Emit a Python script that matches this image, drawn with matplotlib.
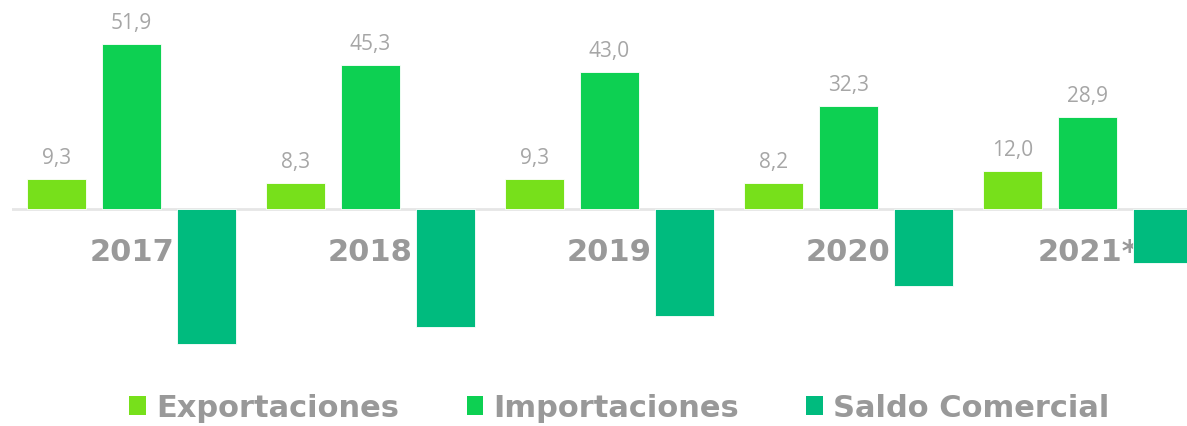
import numpy as np
import matplotlib.pyplot as plt
from matplotlib.patches import Patch

years = ["2017", "2018", "2019", "2020", "2021*"]
exportaciones = [9.3, 8.3, 9.3, 8.2, 12.0]
importaciones = [51.9, 45.3, 43.0, 32.3, 28.9]
saldo = [-42.6, -37.0, -33.7, -24.1, -16.9]
series_names = ["Exportaciones", "Importaciones", "Saldo Comercial"]
colors = ["#77e01b", "#0dd052", "#00bb7e"]

label_gray = "#a6a6a6"
year_gray = "#999999"

fig = plt.figure(figsize=(11.87, 4.27), dpi=100)
# axes spans from x=12px to right edge, y from top to 370px
ax = fig.add_axes([12 / 1187, 1 - 370 / 427, 1 - 12 / 1187, 370 / 427])

x = np.arange(len(years))
step = 75 / 239
width = 59 / 239

for k, (vals, col) in enumerate(zip([exportaciones, importaciones, saldo], colors)):
    pos = x + (k - 1) * step
    ax.bar(pos, vals, width=width, color=col, edgecolor="white", linewidth=0.6, zorder=2)
    if k < 2:
        for p, v in zip(pos, vals):
            ax.annotate(f"{v:.1f}".replace(".", ","), (p, v), xytext=(0, 8),
                        textcoords="offset points", ha="center", va="bottom",
                        fontsize=15, color=label_gray, family="Open Sans")

ax.axhline(0, color="#e6e6e6", linewidth=2, zorder=1)

for xi, yr in zip(x, years):
    ax.text(xi, -13.3, yr, ha="center", va="center", fontsize=22,
            fontweight="bold", color=year_gray, family="DejaVu Sans", zorder=1)

ax.set_xlim(-0.5, (1187 - 131.5) / 239)
px = 165 / 51.9
ax.set_ylim(-160 / px, 210 / px)
ax.axis("off")

handles = [Patch(facecolor=c, edgecolor="none") for c in colors]
fig.legend(handles, series_names, loc="center", bbox_to_anchor=(0.522, 1 - 409 / 427),
           ncol=3, frameon=False, handlelength=0.55, handleheight=0.55,
           handletextpad=0.33, columnspacing=2.2,
           prop={"family": "DejaVu Sans", "weight": "bold", "size": 22},
           labelcolor=year_gray)

fig.savefig("out.png", dpi=100)
